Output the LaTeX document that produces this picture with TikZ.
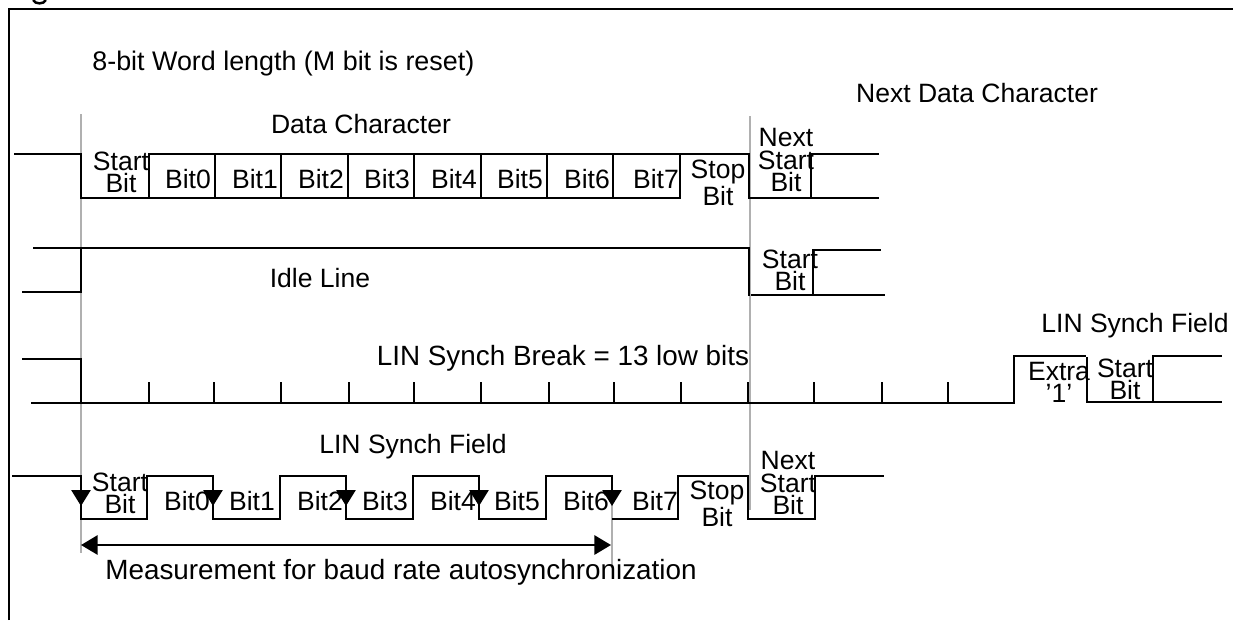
\documentclass[tikz,border=0pt]{standalone}
\usepackage{fontspec}
\setmainfont{Liberation Sans}
\usetikzlibrary{arrows.meta}
\definecolor{markgray}{RGB}{176,176,176}

\begin{document}
\begin{tikzpicture}[x=0.02cm,y=-0.02cm,
    every node/.style={font=\fontsize{15.1}{12.6}\selectfont,inner sep=0pt,align=center},
    widetext/.style={font=\fontsize{15.85}{12.6}\selectfont},
    wave/.style={line width=1.2pt,line cap=rect},
    guide/.style={draw=markgray,line width=1.2pt},
    edge/.style={wave,-{Triangle[length=9pt,width=10.8pt]}},
    span/.style={wave,{Triangle[length=9.5pt,width=11pt]}-{Triangle[length=9.5pt,width=11pt]}}]
  \useasboundingbox (0,0) rectangle (1233,620);
  % Frame and the cut off title
  \draw[line width=1.3pt] (9,620) -- (9,9) -- (1233,9);
  \draw[line width=1.4pt] (33,0) .. controls (35,4.5) and (44,4.5) .. (46,0);
  % Guides
  \draw[guide] (81,114) -- (81,553);
  \draw[guide] (750,116) -- (750,510);
  \draw[guide] (612,476) -- (612,568);
  % Data character
  \draw[wave] (15,154) -- (81,154) -- (81,198) -- (680,198) -- (680,154);
  \draw[wave] (149,198) -- (149,154) -- (749,154) -- (749,198) -- (878,198);
  \draw[wave] (811,198) -- (811,154) -- (878,154);
  \foreach \x in {215,281,348,414,481,547,613}{
    \draw[wave] (\x,154) -- (\x,198);
  }
  % Idle line
  \draw[wave] (23,292) -- (81,292) -- (81,248);
  \draw[wave] (34,248) -- (749,248) -- (749,295);
  \draw[wave] (752,295) -- (884,295);
  \draw[wave] (880,250) -- (813,250) -- (813,295);
  % Synch break
  \draw[wave] (23,359) -- (81,359) -- (81,403);
  \draw[wave] (32,403) -- (1014,403) -- (1014,356) -- (1085,356);
  \draw[wave] (1087,358) -- (1087,402) -- (1221,402);
  \draw[wave] (1153,402) -- (1153,356) -- (1221,356);
  \foreach \x in {149,214,281,349,414,481,549,614,681,748,814,882,948}{
    \draw[wave] (\x,383) -- (\x,403);
  }
  % Synch field
  \draw[wave] (13,476) -- (81,476) -- (81,519) -- (147,519) -- (147,476) -- (213,476) -- (213,519)
    -- (280,519) -- (280,476) -- (346,476) -- (346,519) -- (413,519) -- (413,476) -- (479,476)
    -- (479,519) -- (546,519) -- (546,476) -- (611,476);
  \draw[wave] (613,519) -- (678,519) -- (678,476) -- (748,476) -- (748,519) -- (815,519) -- (815,476) -- (883,476);
  \foreach \x in {81,213,346,479,612}{
    \draw[edge] (\x,476) -- (\x,506);
  }
  % Measurement
  \coordinate (spanl) at (81,545);
  \coordinate (spanr) at (611,545);
  \draw[span] (spanl) -- (spanr);
  % Titles
  \node[anchor=west,font=\fontsize{15.3}{12.6}\selectfont] (wordlen) at (92,64) {8-bit Word length (M bit is reset)};
  \node (nextdata) at (977,93) {Next Data Character};
  \node (datachar) at (361,124) {Data Character};
  \node (idle) at (320,278) {Idle Line};
  \node[widetext] (breaklen) at (563,358) {LIN Synch Break = 13 low bits};
  \node (fieldr) at (1135,326) {LIN Synch Field};
  \node (fieldl) at (413,447) {LIN Synch Field};
  \node[widetext] (measure) at (401,572) {Measurement for baud rate autosynchronization};
  % Bit labels
  \foreach \x/\n in {188/0,255/1,321/2,387/3,454/4,520/5,587/6,656/7}{
    \node[anchor=base] (top\n) at (\x,188) {Bit\n};
  }
  \foreach \x/\n in {187/0,252/1,320/2,385/3,453/4,517/5,586/6,655/7}{
    \node[anchor=base] (low\n) at (\x,510) {Bit\n};
  }
  \node (topstart) at (121,172) {Start\\Bit};
  \node (topstop) at (718,183) {Stop\\Bit};
  \node (topnext) at (786,160) {Next\\Start\\Bit};
  \node (idlestart) at (790,270) {Start\\Bit};
  \node (extra) at (1059,382) {Extra\\’1’};
  \node (fieldstart) at (1125,379) {Start\\Bit};
  \node (lowstart) at (120,493) {Start\\Bit};
  \node (lowstop) at (717,504) {Stop\\Bit};
  \node (lownext) at (788,483) {Next\\Start\\Bit};
\end{tikzpicture}
\end{document}
